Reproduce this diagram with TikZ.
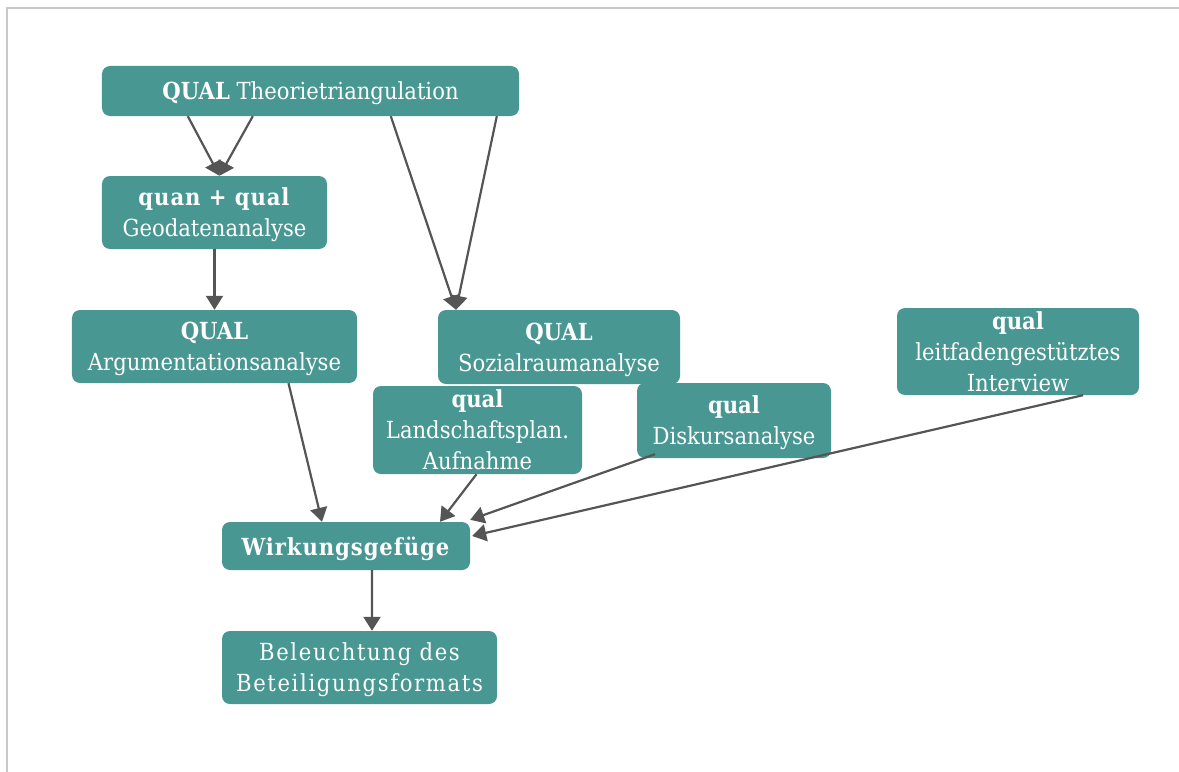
\documentclass[tikz,border=0pt]{standalone}
\usepackage{fontspec}
\setmainfont{DejaVu Serif Condensed}
\usetikzlibrary{arrows.meta}
\definecolor{boxteal}{RGB}{73,151,147}
\definecolor{arrowgray}{RGB}{85,85,85}
\definecolor{framegray}{RGB}{200,200,200}
\newcommand{\boxfont}{\fontsize{23.5bp}{31bp}\selectfont}
\begin{document}
\begin{tikzpicture}[x=1bp,y=-1bp,
  box/.style={fill=boxteal, rounded corners=8bp, inner sep=0pt, text=white,
    align=center, text depth=0pt, font=\boxfont},
  spaced/.style={font={\boxfont\addfontfeatures{LetterSpace=#1}}},
  flow/.style={draw=arrowgray, line width=2.2bp,
    -{Triangle[length=14bp,width=17bp]}}]
\useasboundingbox (0,0) rectangle (1179,772);
% frame lines along the top and left edges
\draw[framegray, line width=1.5bp] (7,772) -- (7,8) -- (1179,8);

% method boxes
\node[box, minimum width=417bp, minimum height=50bp] (theo) at (310.5,91)
  {\textbf{QUAL} Theorietriangulation};
\node[box, spaced=4, minimum width=225bp, minimum height=73bp] (geo) at (214.5,212.5)
  {\textbf{quan + qual}\\\addfontfeatures{LetterSpace=0}Geodatenanalyse};
\node[box, minimum width=285bp, minimum height=73bp] (arg) at (214.5,346.5)
  {\textbf{QUAL}\\Argumentationsanalyse};
\node[box, minimum width=242bp, minimum height=74bp] (sozi) at (559,347)
  {\textbf{QUAL}\\Sozialraumanalyse};
\node[box, minimum width=209bp, minimum height=88bp] (land) at (477.5,430)
  {\textbf{qual}\\Landschaftsplan.\\Aufnahme};
\node[box, minimum width=194bp, minimum height=75bp] (disk) at (734,420.5)
  {\textbf{qual}\\Diskursanalyse};
\node[box, minimum width=242bp, minimum height=87bp] (intv) at (1018,351.5)
  {\textbf{qual}\\leitfadengestütztes\\Interview};
\node[box, spaced=4, minimum width=248bp, minimum height=48bp] (wirk) at (346,546)
  {\textbf{Wirkungsgefüge}};
\node[box, spaced=7, minimum width=275bp, minimum height=73bp] (bel) at (359.5,667.5)
  {Beleuchtung des\\Beteiligungsformats};

% connectors
\draw[flow] ([xshift=86bp]theo.south west) -- ([xshift=5bp]geo.north);
\draw[flow] ([xshift=151bp]theo.south west) -- ([xshift=5bp]geo.north);
\draw[flow] ([xshift=289bp]theo.south west) -- ([xshift=-103bp]sozi.north);
\draw[flow] ([xshift=395bp]theo.south west) -- ([xshift=-103bp]sozi.north);
\draw[flow] (geo.south) -- (arg.north);
\draw[flow] ([xshift=74bp]arg.south) -- ([xshift=-24bp]wirk.north);
\draw[flow] ([xshift=-1bp]land.south) -- ([xshift=94bp]wirk.north);
\draw[flow] ([xshift=-79bp,yshift=4bp]disk.south) -- ([yshift=2bp]wirk.north east);
\draw[flow] ([xshift=65bp]intv.south) -- ([xshift=2bp,yshift=10bp]wirk.east);
\draw[flow] ([xshift=26bp]wirk.south) -- ([xshift=12.5bp]bel.north);
\end{tikzpicture}
\end{document}
